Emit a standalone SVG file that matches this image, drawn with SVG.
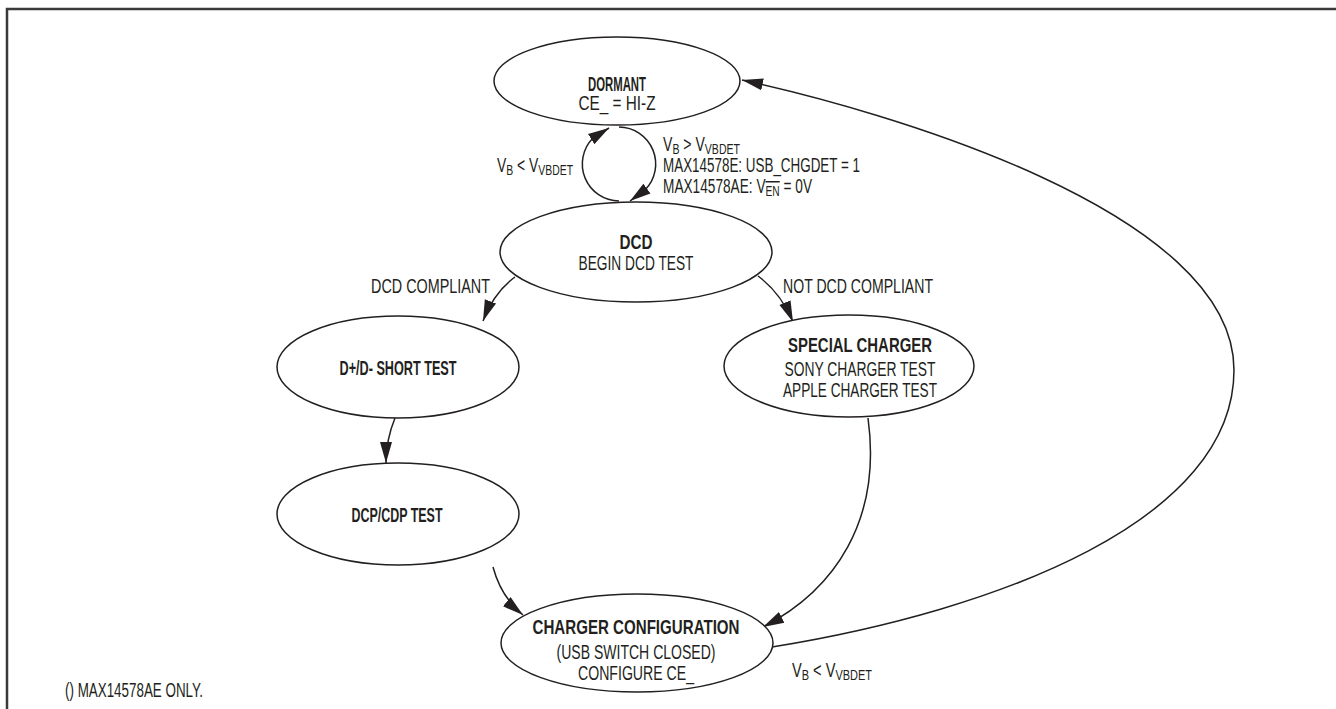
<svg xmlns="http://www.w3.org/2000/svg" width="1336" height="709" viewBox="0 0 1336 709">
<style>
  .bg { fill: #ffffff; }
  .frame { stroke: #3a3a3a; stroke-width: 2.5; fill: none; }
  .node { fill: #ffffff; stroke: #231f20; stroke-width: 1.5; }
  .edge { fill: none; stroke: #231f20; stroke-width: 1.5; }
  text { font-family: "Liberation Sans Narrow", "Liberation Sans", Arial, sans-serif; font-size: 20px; fill: #231f20; }
  .b { font-weight: bold; }
  .c { text-anchor: middle; }
  .sub { font-size: 15px; }
</style>
<defs>
  <marker id="ah" markerUnits="userSpaceOnUse" markerWidth="22" markerHeight="14" refX="21" refY="7" orient="auto">
    <path d="M0,1 L21,7 L0,13 z" fill="#231f20"/>
  </marker>
</defs>
<rect class="bg" x="0" y="0" width="1336" height="709"/>
<path class="frame" d="M7,709 L7,9 L1336,9"/>

<g id="connectors">
  <path class="edge" d="M619,201 A37,37 0 0 1 593,138 L609,128" marker-end="url(#ah)"/>
  <path class="edge" d="M619,127 A37,37 0 0 1 645,190 L630,201" marker-end="url(#ah)"/>
  <path class="edge" d="M515,277 Q494,292 483,321" marker-end="url(#ah)"/>
  <path class="edge" d="M758,276 Q781,293 793,322" marker-end="url(#ah)"/>
  <path class="edge" d="M395,418 Q386,440 386,463" marker-end="url(#ah)"/>
  <path class="edge" d="M493,567 Q501,597 523,615" marker-end="url(#ah)"/>
  <path class="edge" d="M868,418 C882,520 835,590 763,627" marker-end="url(#ah)"/>
  <path class="edge" d="M772,647 C1000,610 1234,520 1234,370 C1234,210 880,110 742,80" marker-end="url(#ah)"/>
</g>

<g id="dormant">
  <ellipse class="node" cx="617" cy="81" rx="123" ry="44"/>
  <text class="b c" x="617" y="91" textLength="58" lengthAdjust="spacingAndGlyphs">DORMANT</text>
  <text class="c" x="617" y="110" textLength="77" lengthAdjust="spacingAndGlyphs">CE_ = HI-Z</text>
</g>

<g id="dcd">
  <ellipse class="node" cx="636" cy="252" rx="136" ry="50"/>
  <text class="b c" x="636" y="249" textLength="33" lengthAdjust="spacingAndGlyphs">DCD</text>
  <text class="c" x="636" y="270" textLength="115" lengthAdjust="spacingAndGlyphs">BEGIN DCD TEST</text>
</g>

<g id="short-test">
  <ellipse class="node" cx="398" cy="367" rx="121" ry="51"/>
  <text class="b c" x="398" y="375" textLength="117" lengthAdjust="spacingAndGlyphs">D+/D- SHORT TEST</text>
</g>

<g id="special-charger">
  <ellipse class="node" cx="849" cy="366" rx="125" ry="51"/>
  <text class="b c" x="860" y="352" textLength="144" lengthAdjust="spacingAndGlyphs">SPECIAL CHARGER</text>
  <text class="c" x="860" y="376" textLength="151" lengthAdjust="spacingAndGlyphs">SONY CHARGER TEST</text>
  <text class="c" x="860" y="397" textLength="154" lengthAdjust="spacingAndGlyphs">APPLE CHARGER TEST</text>
</g>

<g id="dcp-cdp">
  <ellipse class="node" cx="398" cy="514" rx="121" ry="51"/>
  <text class="b c" x="397" y="522" textLength="91" lengthAdjust="spacingAndGlyphs">DCP/CDP TEST</text>
</g>

<g id="charger-config">
  <ellipse class="node" cx="637" cy="643" rx="136" ry="49"/>
  <text class="b c" x="636" y="634" textLength="207" lengthAdjust="spacingAndGlyphs">CHARGER CONFIGURATION</text>
  <text class="c" x="636" y="659" textLength="159" lengthAdjust="spacingAndGlyphs">(USB SWITCH CLOSED)</text>
  <text class="c" x="636" y="680" textLength="116" lengthAdjust="spacingAndGlyphs">CONFIGURE CE_</text>
</g>

<g id="labels">
  <text x="497" y="172" textLength="76" lengthAdjust="spacingAndGlyphs">V<tspan class="sub" dy="3">B</tspan><tspan dy="-3"> &lt; V</tspan><tspan class="sub" dy="3">VBDET</tspan></text>
  <text x="663" y="151" textLength="77" lengthAdjust="spacingAndGlyphs">V<tspan class="sub" dy="3">B</tspan><tspan dy="-3"> &gt; V</tspan><tspan class="sub" dy="3">VBDET</tspan></text>
  <text x="663" y="172" textLength="197" lengthAdjust="spacingAndGlyphs">MAX14578E: USB_CHGDET = 1</text>
  <text x="663" y="193" textLength="149" lengthAdjust="spacingAndGlyphs">MAX14578AE: V<tspan class="sub" dy="3" text-decoration="overline">EN</tspan><tspan dy="-3"> = 0V</tspan></text>
  <text x="371" y="293" textLength="119" lengthAdjust="spacingAndGlyphs">DCD COMPLIANT</text>
  <text x="783" y="293" textLength="150" lengthAdjust="spacingAndGlyphs">NOT DCD COMPLIANT</text>
  <text x="792" y="677" textLength="80" lengthAdjust="spacingAndGlyphs">V<tspan class="sub" dy="3">B</tspan><tspan dy="-3"> &lt; V</tspan><tspan class="sub" dy="3">VBDET</tspan></text>
  <text x="65" y="697" textLength="138" lengthAdjust="spacingAndGlyphs">() MAX14578AE ONLY.</text>
</g>
</svg>
